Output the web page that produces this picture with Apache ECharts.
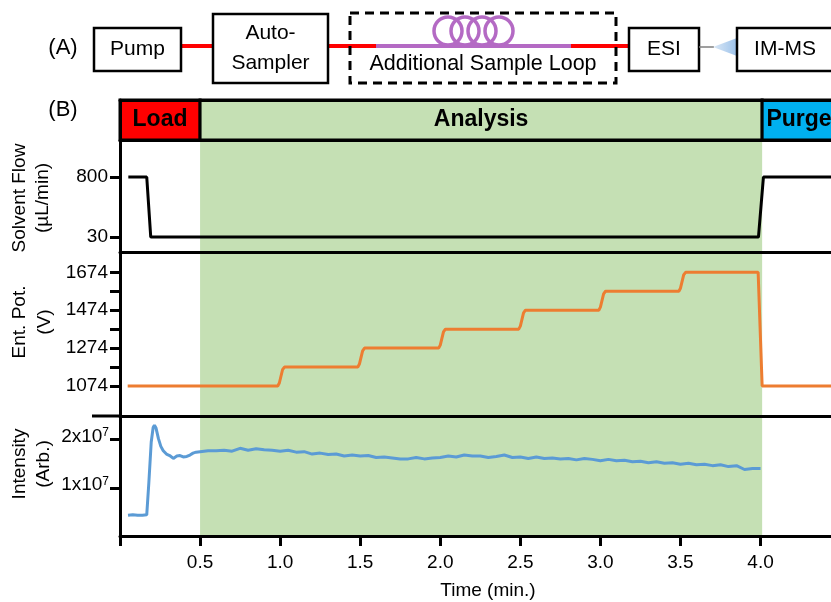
<!DOCTYPE html>
<html>
<head>
<meta charset="utf-8">
<script src="https://cdn.jsdelivr.net/npm/echarts@6/dist/echarts.min.js"></script>
<style>
html, body { margin: 0; padding: 0; background: #fff; }
#chart { width: 831px; height: 602px; }
</style>
</head>
<body>
<div id="chart"></div>
<script>
const font = 'Liberation Sans, Arial, sans-serif';

// phases of the run (minutes)
const phaseNames = ['Load', 'Analysis', 'Purge'];
const phaseStart = [0, 0.5, 4.01];
const phaseEnd = [0.5, 4.01, 4.47];
const phaseColors = ['#ff0000', '#c5e0b4', '#00b0f0'];

const timeTicks = [0, 0.5, 1.0, 1.5, 2.0, 2.5, 3.0, 3.5, 4.0];
const timeLabels = [0.5, 1.0, 1.5, 2.0, 2.5, 3.0, 3.5, 4.0];

// solvent flow (uL/min)
const flowTime = [0.052, 0.167, 0.192, 3.987, 4.018, 4.47];
const flowValues = [800, 800, 30, 30, 800, 800];
const flowTicks = [30, 800];

// entrance potential (V)
const potTime = [0.048, 0.985, 0.995, 1.015, 1.027,
    1.485, 1.495, 1.515, 1.527,
    1.99, 2.0, 2.02, 2.032,
    2.49, 2.5, 2.52, 2.532,
    2.99, 3.0, 3.02, 3.032,
    3.49, 3.5, 3.52, 3.532,
    3.985, 4.01, 4.47];
const potValues = [1074, 1074, 1090, 1160, 1174,
    1174, 1190, 1260, 1274,
    1274, 1290, 1360, 1374,
    1374, 1390, 1460, 1474,
    1474, 1490, 1560, 1574,
    1574, 1590, 1660, 1674,
    1674, 1074, 1074];
const potTicks = [1074, 1174, 1274, 1374, 1474, 1574, 1674];
const potLabels = [1074, 1274, 1474, 1674];

// intensity (x10^7, arb.)
const intensityTime = [0.05, 0.08, 0.11, 0.14, 0.167, 0.18, 0.195, 0.207, 0.215, 0.225,
    0.24, 0.255, 0.27, 0.29, 0.31, 0.333, 0.355, 0.375, 0.395, 0.417, 0.437, 0.456, 0.475,
    0.50, 0.55, 0.60, 0.65, 0.70, 0.75, 0.80, 0.85, 0.90, 0.95,
    1.00, 1.05, 1.10, 1.15, 1.20, 1.25, 1.30, 1.35, 1.40, 1.45,
    1.50, 1.55, 1.60, 1.65, 1.70, 1.75, 1.80, 1.85, 1.90, 1.95,
    2.00, 2.05, 2.10, 2.15, 2.20, 2.25, 2.30, 2.35, 2.40, 2.45,
    2.50, 2.55, 2.60, 2.65, 2.70, 2.75, 2.80, 2.85, 2.90, 2.95,
    3.00, 3.05, 3.10, 3.15, 3.20, 3.25, 3.30, 3.35, 3.40, 3.45,
    3.50, 3.55, 3.60, 3.65, 3.70, 3.75, 3.80, 3.85, 3.90, 3.95, 4.00];
const intensityValues = [0.43, 0.44, 0.43, 0.43, 0.44, 1.10, 1.95, 2.25, 2.30, 2.24,
    2.02, 1.86, 1.77, 1.70, 1.67, 1.61, 1.66, 1.67, 1.64, 1.65, 1.68, 1.72, 1.74,
    1.75, 1.77, 1.77, 1.78, 1.76, 1.82, 1.78, 1.81, 1.79, 1.78,
    1.76, 1.78, 1.74, 1.75, 1.70, 1.72, 1.69, 1.70, 1.66, 1.68,
    1.66, 1.67, 1.63, 1.64, 1.62, 1.60, 1.60, 1.63, 1.60, 1.62,
    1.63, 1.66, 1.64, 1.68, 1.66, 1.66, 1.63, 1.65, 1.68, 1.63,
    1.64, 1.61, 1.64, 1.61, 1.62, 1.60, 1.61, 1.58, 1.61, 1.59,
    1.56, 1.59, 1.56, 1.57, 1.54, 1.55, 1.52, 1.54, 1.51, 1.52,
    1.49, 1.51, 1.48, 1.49, 1.46, 1.48, 1.44, 1.46, 1.38, 1.40, 1.40];
const intensityTicks = [1, 2];

const pairs = (xs, ys) => xs.map((x, i) => [x, ys[i]]);

const axisLineStyle = { color: '#000', width: 3 };
const labelStyle = { color: '#000', fontSize: 19, fontFamily: font };

function greenBand() {
    return {
        silent: true,
        itemStyle: { color: phaseColors[1], opacity: 1 },
        label: { show: false },
        data: [[{ xAxis: phaseStart[1] }, { xAxis: phaseEnd[1] }]]
    };
}

function makeX(i) {
    const bottom = i === 3;
    return {
        type: 'value', gridIndex: i, min: 0, max: i === 0 ? 4.49 : 4.44, z: 5,
        interval: 0.5,
        position: i === 0 ? 'top' : 'bottom',
        axisLine: { show: true, onZero: false, lineStyle: axisLineStyle },
        axisTick: { show: bottom, customValues: timeTicks, length: 10, lineStyle: { color: '#000', width: 3 } },
        axisLabel: Object.assign({ show: bottom, customValues: timeLabels, margin: 17,
            formatter: v => v.toFixed(1) }, labelStyle),
        splitLine: { show: false },
        name: bottom ? 'Time (min.)' : '',
        nameLocation: 'middle',
        nameGap: 45,
        nameTextStyle: Object.assign({ padding: [0, 0, 0, 25] }, labelStyle)
    };
}

function makeY(i, min, max, ticks, labels, extra) {
    return {
        type: 'value', gridIndex: i, min: min, max: max, z: 5,
        axisLine: { show: true, lineStyle: axisLineStyle },
        axisTick: { show: true, customValues: ticks, length: 10, lineStyle: { color: '#000', width: 3 } },
        axisLabel: Object.assign({ customValues: labels, margin: 12, formatter: v => String(v) },
            labelStyle, extra || {}),
        splitLine: { show: false }
    };
}

const grids = [
    { left: 120, right: -8, top: 100, height: 40 },
    { left: 120, right: 0, top: 140, height: 112 },
    { left: 120, right: 0, top: 252, height: 164 },
    { left: 120, right: 0, top: 416, height: 120 }
].map(g => Object.assign({ outerBoundsMode: 'none' }, g));

// top border of the solvent-flow panel (under the phase bar)
const flowTopAxis = {
    type: 'value', gridIndex: 1, min: 0, max: 4.44, position: 'top', z: 5,
    axisLine: { show: true, onZero: false, lineStyle: axisLineStyle },
    axisTick: { show: false }, axisLabel: { show: false }, splitLine: { show: false }
};

const purple = '#b46ac4';
const boxStyle = { fill: '#fff', stroke: '#000', lineWidth: 2.5 };
const textStyle = (text, x, y, size, extra) => ({
    type: 'text', x: x, y: y, z: 10,
    style: Object.assign({ text: text, fill: '#000', font: size + 'px ' + font,
        align: 'center', verticalAlign: 'middle' }, extra || {})
});

const schematic = [
    textStyle('(A)', 63, 48, 22),
    { type: 'line', shape: { x1: 181, y1: 46, x2: 213, y2: 46 }, style: { stroke: '#ff0000', lineWidth: 4 } },
    { type: 'line', shape: { x1: 328, y1: 46, x2: 376, y2: 46 }, style: { stroke: '#ff0000', lineWidth: 4 } },
    { type: 'line', shape: { x1: 376, y1: 46, x2: 571, y2: 46 }, style: { stroke: purple, lineWidth: 4 } },
    { type: 'line', shape: { x1: 571, y1: 46, x2: 629, y2: 46 }, style: { stroke: '#ff0000', lineWidth: 4 } },
    { type: 'circle', shape: { cx: 448, cy: 31, r: 14 }, style: { fill: 'none', stroke: purple, lineWidth: 3.5 } },
    { type: 'circle', shape: { cx: 465, cy: 31, r: 14 }, style: { fill: 'none', stroke: purple, lineWidth: 3.5 } },
    { type: 'circle', shape: { cx: 482, cy: 31, r: 14 }, style: { fill: 'none', stroke: purple, lineWidth: 3.5 } },
    { type: 'circle', shape: { cx: 499, cy: 31, r: 14 }, style: { fill: 'none', stroke: purple, lineWidth: 3.5 } },
    { type: 'rect', shape: { x: 350, y: 13, width: 266, height: 70 },
      style: { fill: 'none', stroke: '#000', lineWidth: 3, lineDash: [9, 6] } },
    textStyle('Additional Sample Loop', 483, 64, 21.5),
    { type: 'rect', shape: { x: 94, y: 28, width: 87, height: 43 }, style: boxStyle },
    textStyle('Pump', 137.5, 49.5, 21),
    { type: 'rect', shape: { x: 213, y: 14, width: 115, height: 69 }, style: boxStyle },
    textStyle('Auto-\nSampler', 270.5, 48, 21, { lineHeight: 30 }),
    { type: 'rect', shape: { x: 629, y: 28, width: 70, height: 43 }, style: boxStyle },
    textStyle('ESI', 664, 49.5, 21),
    { type: 'line', shape: { x1: 699, y1: 47, x2: 714, y2: 47 }, style: { stroke: '#7f7f7f', lineWidth: 1.5 } },
    { type: 'polygon', shape: { points: [[713, 47], [737, 38], [737, 56]] },
      style: { fill: new echarts.graphic.LinearGradient(0, 0, 1, 0, [
          { offset: 0, color: '#dbe8f6' }, { offset: 1, color: '#9cc2ea' }]) } },
    { type: 'rect', shape: { x: 737, y: 28, width: 110, height: 43 }, style: boxStyle },
    textStyle('IM-MS', 785, 49.5, 21)
];

const panelText = [
    textStyle('(B)', 63, 110, 22),
    { type: 'line', shape: { x1: 92, y1: 416, x2: 121, y2: 416 }, style: { stroke: '#000', lineWidth: 3 } },
    Object.assign(textStyle('Solvent Flow\n(µL/min)', 31.5, 198, 19, { lineHeight: 23 }), { rotation: Math.PI / 2 }),
    Object.assign(textStyle('Ent. Pot.\n(V)', 32.5, 322, 19, { lineHeight: 25 }), { rotation: Math.PI / 2 }),
    Object.assign(textStyle('Intensity\n(Arb.)', 32, 464, 19, { lineHeight: 24 }), { rotation: Math.PI / 2 })
];

const option = {
    animation: false,
    backgroundColor: '#fff',
    textStyle: { fontFamily: font },
    grid: grids,
    xAxis: [0, 1, 2, 3].map(makeX).concat([flowTopAxis]),
    yAxis: [
        { type: 'value', gridIndex: 0, min: 0, max: 1, z: 5,
          axisLine: { show: true, lineStyle: axisLineStyle },
          axisTick: { show: false }, axisLabel: { show: false }, splitLine: { show: false } },
        makeY(1, -162, 1275, flowTicks, flowTicks),
        makeY(2, 916, 1781, potTicks, potLabels),
        makeY(3, 0, 2.49, intensityTicks, intensityTicks, {
            margin: 11,
            padding: [0, 0, 6, 0],
            formatter: v => '{m|' + v + 'x10}{s|7}',
            rich: {
                m: { fontSize: 19, color: '#000', fontFamily: font },
                s: { fontSize: 12, color: '#000', fontFamily: font, verticalAlign: 'top' }
            }
        })
    ],
    series: [
        {
            type: 'line', xAxisIndex: 0, yAxisIndex: 0, data: [], z: 4,
            markArea: {
                silent: true,
                label: { show: true, position: 'inside', color: '#000', fontWeight: 'bold',
                    fontSize: 23, fontFamily: font },
                itemStyle: { borderColor: '#000', borderWidth: 3, opacity: 1 },
                data: phaseNames.map((name, i) => [
                    { name: name, xAxis: phaseStart[i], itemStyle: { color: phaseColors[i] } },
                    { xAxis: phaseEnd[i] }
                ])
            }
        },
        {
            type: 'line', xAxisIndex: 1, yAxisIndex: 1, symbol: 'none',
            lineStyle: { color: '#000', width: 3 }, itemStyle: { color: '#000' },
            data: pairs(flowTime, flowValues),
            markArea: greenBand()
        },
        {
            type: 'line', xAxisIndex: 2, yAxisIndex: 2, symbol: 'none',
            lineStyle: { color: '#ed7d31', width: 3 }, itemStyle: { color: '#ed7d31' },
            data: pairs(potTime, potValues),
            markArea: greenBand()
        },
        {
            type: 'line', xAxisIndex: 3, yAxisIndex: 3, symbol: 'none',
            lineStyle: { color: '#5b9bd5', width: 3 }, itemStyle: { color: '#5b9bd5' },
            data: pairs(intensityTime, intensityValues),
            markArea: greenBand()
        }
    ],
    graphic: schematic.concat(panelText)
};

const chart = echarts.init(document.getElementById('chart'));
chart.setOption(option);
</script>
</body>
</html>
